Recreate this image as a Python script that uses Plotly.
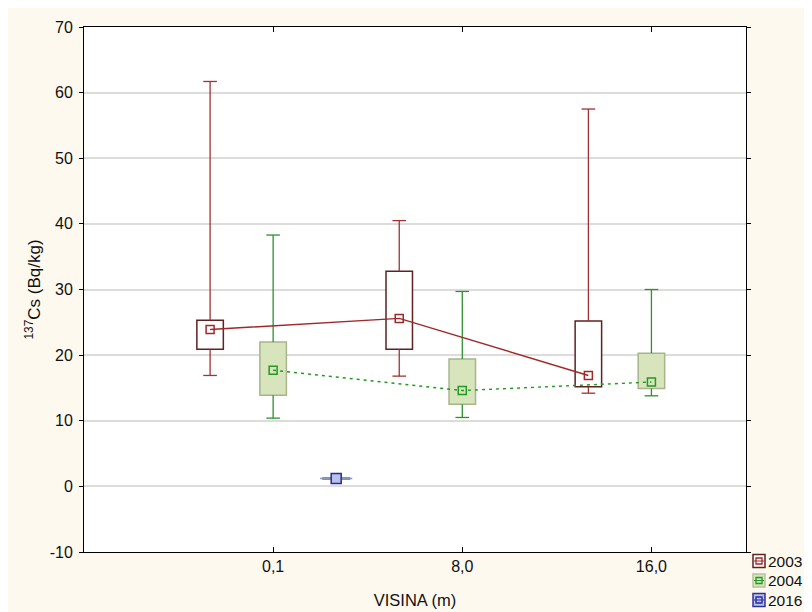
import plotly.graph_objects as go

# ---- data ----
categories = ["0,1", "8,0", "16,0"]
series = ["2003", "2004", "2016"]

min_2003 = [16.9, 16.8, 14.2]
q1_2003 = [20.9, 20.9, 15.2]
med_2003 = [23.9, 25.6, 16.9]
q3_2003 = [25.3, 32.8, 25.2]
max_2003 = [61.7, 40.5, 57.5]

min_2004 = [10.4, 10.5, 13.8]
q1_2004 = [13.9, 12.5, 14.9]
med_2004 = [17.7, 14.6, 15.9]
q3_2004 = [22.0, 19.4, 20.3]
max_2004 = [38.3, 29.7, 30.0]

min_2016 = [1.1, None, None]
q1_2016 = [1.15, None, None]
med_2016 = [1.2, None, None]
q3_2016 = [1.25, None, None]
max_2016 = [1.3, None, None]

yticks = [-10, 0, 10, 20, 30, 40, 50, 60, 70]
ytick_labels = ["-10", "0", "10", "20", "30", "40", "50", "60", "70"]

# ---- styles ----
styles = {
    "2003": dict(offset=-1/3, whisk="#a03232", fill="#ffffff", border="#5e2222",
                 mk="square-open", mkfill=None, mkline="#a02828", mksize=8, dash="solid"),
    "2004": dict(offset=0.0, whisk="#2f8f2f", fill="#d8e4bc", border="#a7b48c",
                 mk="square-open", mkfill=None, mkline="#229922", mksize=8, dash="3px,4px"),
    "2016": dict(offset=1/3, whisk="#8898b8", fill="#b8c2e6", border="#30309a",
                 mk="square", mkfill="#b8c2e6", mkline="#2828a0", mksize=10, dash="solid"),
}
data = {
    "2003": (min_2003, q1_2003, med_2003, q3_2003, max_2003),
    "2004": (min_2004, q1_2004, med_2004, q3_2004, max_2004),
    "2016": (min_2016, q1_2016, med_2016, q3_2016, max_2016),
}

W, H = 812, 612
ML, MR, MT, MB = 76, 74, 19, 68
PW, PH = W - ML - MR, H - MT - MB

BOX_W = 0.14
CAP = 0.036

fig = go.Figure()

for s in series:
    st = styles[s]
    mn, q1, md, q3, mx = data[s]
    idx = [i for i in range(len(categories)) if md[i] is not None]
    pos = [i + st["offset"] for i in idx]

    wx, wy = [], []
    if s == "2016":
        for i, p in zip(idx, pos):
            wx += [p - 0.085, p + 0.085, None]
            wy += [md[i], md[i], None]
    else:
        for i, p in zip(idx, pos):
            wx += [p, p, None, p, p, None, p - CAP, p + CAP, None, p - CAP, p + CAP, None]
            wy += [q3[i], mx[i], None, q1[i], mn[i], None, mx[i], mx[i], None, mn[i], mn[i], None]
    fig.add_trace(go.Scatter(x=wx, y=wy, mode="lines", line=dict(color=st["whisk"], width=1.3),
                             showlegend=False, hoverinfo="skip"))

    fig.add_trace(go.Bar(x=pos, base=[q1[i] for i in idx], y=[q3[i] - q1[i] for i in idx],
                         width=BOX_W, name=s, showlegend=False,
                         marker=dict(color=st["fill"], line=dict(color=st["border"], width=1.5))))

for s in series:
    st = styles[s]
    mn, q1, md, q3, mx = data[s]
    idx = [i for i in range(len(categories)) if md[i] is not None]
    pos = [i + st["offset"] for i in idx]
    fig.add_trace(go.Scatter(
        x=pos, y=[md[i] for i in idx], mode="lines+markers", name=s,
        line=dict(color=st["mkline"], width=1.4, dash=st["dash"]),
        marker=dict(symbol=st["mk"], size=st["mksize"],
                    color=st["mkfill"] if st["mkfill"] else st["mkline"],
                    line=dict(color=st["mkline"], width=1.5)),
        showlegend=False))

# ---- manual legend (bottom right, outside the plot) ----
def px2x(px):
    return (px - ML) / PW

def py2y(py):
    return (H - MB - py) / PH

shapes, annotations = [], []
for k, s in enumerate(series):
    st = styles[s]
    cy = 553 + 19.5 * k
    x0, x1 = 745, 757
    shapes.append(dict(type="rect", xref="paper", yref="paper",
                       x0=px2x(x0), x1=px2x(x1), y0=py2y(cy - 6.5), y1=py2y(cy + 6.5),
                       fillcolor=st["fill"] if s != "2003" else "#ffffff",
                       line=dict(color=st["border"] if s != "2004" else "#b6c29c", width=1.5)))
    shapes.append(dict(type="line", xref="paper", yref="paper",
                       x0=px2x(x0 + 1), x1=px2x(x1 - 1), y0=py2y(cy), y1=py2y(cy),
                       line=dict(color=st["mkline"], width=1)))
    shapes.append(dict(type="rect", xref="paper", yref="paper",
                       x0=px2x(748), x1=px2x(754), y0=py2y(cy - 3), y1=py2y(cy + 3),
                       fillcolor="rgba(0,0,0,0)", line=dict(color=st["mkline"], width=1.3)))
    annotations.append(dict(text=s, xref="paper", yref="paper", x=px2x(758), y=py2y(cy),
                            xanchor="left", yanchor="middle", showarrow=False,
                            font=dict(size=15.5, color="#111111")))

fig.update_layout(
    width=W, height=H,
    paper_bgcolor="#fef9ee", plot_bgcolor="#ffffff",
    margin=dict(l=ML, r=MR, t=MT, b=MB, autoexpand=False),
    barmode="overlay", showlegend=False,
    shapes=shapes, annotations=annotations,
    font=dict(family="Liberation Sans, Arial, sans-serif", size=16, color="#111111"),
    xaxis=dict(range=[-1, 2.5], tickvals=list(range(len(categories))), ticktext=categories,
               ticks="inside", ticklen=5, tickcolor="#000", showline=True, linecolor="#000",
               linewidth=1, mirror="ticks", showgrid=False, zeroline=False,
               tickfont=dict(size=16),
               title=dict(text="VISINA (m)", font=dict(size=16.5), standoff=20)),
    yaxis=dict(range=[-10, 70], tickvals=yticks, ticktext=ytick_labels, ticks="outside",
               ticklen=4, tickcolor="#000",
               showline=True, linecolor="#000", linewidth=1, mirror="ticks",
               showgrid=True, gridcolor="#dcdcdc", gridwidth=1.5, zeroline=False,
               tickfont=dict(size=16), ticklabelstandoff=3,
               title=dict(text="<sup>137</sup>Cs (Bq/kg)", font=dict(size=17), standoff=4)),
)

fig.write_html("out.html")
